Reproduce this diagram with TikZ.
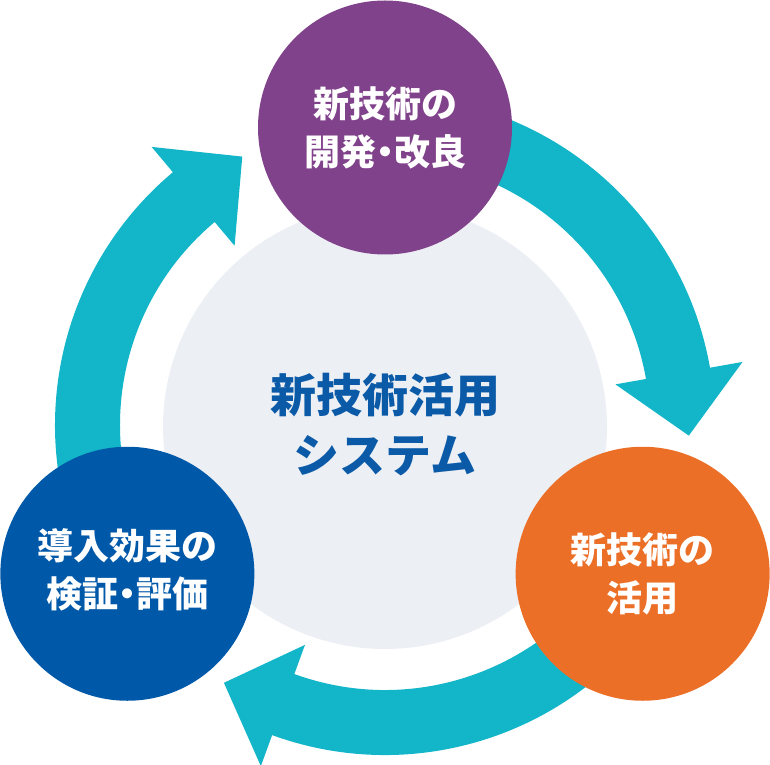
\documentclass[tikz,border=0pt]{standalone}
\usepackage{fontspec}
\newfontfamily\cjk{Noto Sans CJK JP}
\newfontfamily\cjkp{Noto Sans CJK JP}[RawFeature=+palt]
\newcommand{\pdot}{{\cjkp\bfseries ・}}
\usetikzlibrary{calc}
\definecolor{ringteal}{HTML}{13B5C9}
\definecolor{hubgray}{HTML}{ECEFF4}
\definecolor{cpurple}{HTML}{80428A}
\definecolor{corange}{HTML}{EB6F27}
\definecolor{cblue}{HTML}{0058A9}
\definecolor{hubtext}{HTML}{0A5AA8}
\tikzset{
  stagecircle/.style={circle, minimum size=254pt, inner sep=0pt, draw=none},
  stagelabel/.style={align=center, text=white, font=\cjk\bfseries\fontsize{36}{48}\selectfont},
  hublabel/.style={align=center, text=hubtext, font=\cjk\bfseries\fontsize{46}{60}\selectfont},
}
\newcommand{\cyclearrow}[1]{%
  \fill[ringteal] ($(C)+(#1+80:330pt)$) arc[start angle=#1+80, end angle=#1, radius=330pt]
    -- ($(C)+(#1:363pt)$) -- ($(C)+(#1-12:304pt)$) -- ($(C)+(#1:234pt)$)
    -- ($(C)+(#1:265pt)$) arc[start angle=#1, end angle=#1+80, radius=265pt] -- cycle;}
\begin{document}
\begin{tikzpicture}[x=1pt,y=1pt]
\useasboundingbox (0,0) rectangle (770,764);
\coordinate (C) at (385,339);
\node[circle, fill=hubgray, minimum size=444pt, inner sep=0pt] (hub) at (385,337) {};
\node[hublabel] (hubtxt) at (385,339) {新技術活用\\システム};
\cyclearrow{10}
\cyclearrow{130}
\cyclearrow{250}
\node[stagecircle, fill=cpurple] (dev) at ($(C)+(90:297.5pt)$) {};
\node[stagecircle, fill=corange] (use) at ($(C)+(-30:297.5pt)$) {};
\node[stagecircle, fill=cblue] (eval) at ($(C)+(210:297.5pt)$) {};
\node[stagelabel] at (dev) {新技術の\\開発\pdot 改良};
\node[stagelabel] at (use) {新技術の\\活用};
\node[stagelabel] at ($(eval)+(0,4)$) {導入効果の\\検証\pdot 評価};
\end{tikzpicture}
\end{document}
